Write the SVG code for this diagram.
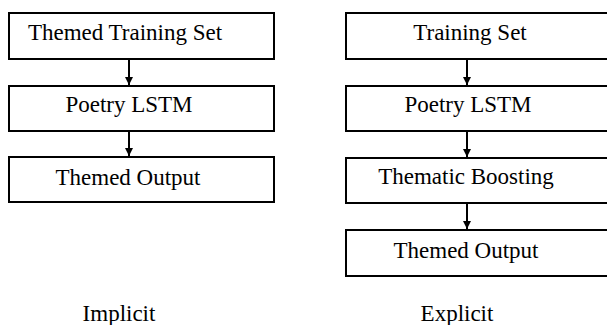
<svg xmlns="http://www.w3.org/2000/svg" width="607" height="325" viewBox="0 0 607 325">
<style>
.box{fill:#fff;stroke:#000;stroke-width:2}
.t{font-family:"Liberation Serif","Times New Roman",serif;font-size:23px;fill:#000;text-anchor:middle}
.c{stroke:#000;stroke-width:2;fill:none;marker-end:url(#ah)}
</style>
<defs>
<marker id="ah" markerUnits="userSpaceOnUse" markerWidth="10" markerHeight="10" refX="8" refY="4" orient="auto">
<path d="M0,0 L8,4 L0,8 Z" fill="#000"/>
</marker>
</defs>
<rect width="607" height="325" fill="#fff"/>
<g id="connectors">
<line class="c" x1="129" y1="60" x2="129" y2="85"/>
<line class="c" x1="129" y1="131" x2="129" y2="156"/>
<line class="c" x1="467" y1="60" x2="467" y2="85"/>
<line class="c" x1="467" y1="131" x2="467" y2="157"/>
<line class="c" x1="467" y1="204" x2="467" y2="229"/>
</g>
<g id="implicit-training"><rect class="box" x="9" y="13" width="265" height="46"/><text class="t" x="125" y="40">Themed Training Set</text></g>
<g id="implicit-lstm"><rect class="box" x="9" y="86" width="265" height="45"/><text class="t" x="129" y="112">Poetry LSTM</text></g>
<g id="implicit-output"><rect class="box" x="9" y="157" width="265" height="45"/><text class="t" x="128" y="185">Themed Output</text></g>
<g id="explicit-training"><rect class="box" x="346" y="13" width="266" height="46"/><text class="t" x="470" y="40">Training Set</text></g>
<g id="explicit-lstm"><rect class="box" x="346" y="86" width="266" height="45"/><text class="t" x="468" y="112">Poetry LSTM</text></g>
<g id="explicit-boosting"><rect class="box" x="346" y="158" width="266" height="45"/><text class="t" x="466" y="184">Thematic Boosting</text></g>
<g id="explicit-output"><rect class="box" x="346" y="230" width="266" height="46"/><text class="t" x="466" y="258">Themed Output</text></g>
<text class="t" x="119" y="321">Implicit</text>
<text class="t" x="457" y="321">Explicit</text>
</svg>
